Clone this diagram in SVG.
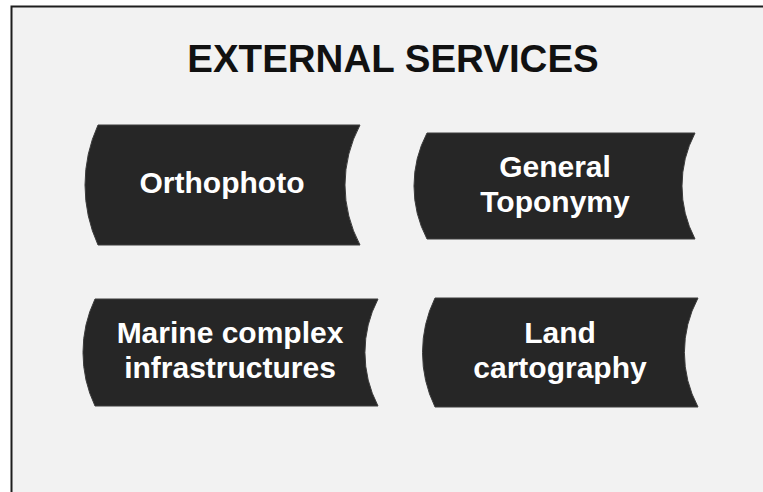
<svg xmlns="http://www.w3.org/2000/svg" width="763" height="492" viewBox="0 0 763 492">
<style>
.frame{fill:#f2f2f2}
.edge{stroke:#1e1e1e;stroke-width:2;fill:none}
.node{fill:#262626;stroke:#3c3c3c;stroke-width:1}
.title{font-family:"Liberation Sans",Arial,sans-serif;font-weight:bold;font-size:38.5px;fill:#111;text-anchor:middle}
.label{font-family:"Liberation Sans",Arial,sans-serif;font-weight:bold;font-size:30px;fill:#ffffff;text-anchor:middle}
</style>
<rect x="0" y="0" width="763" height="492" fill="#ffffff"/>
<rect class="frame" x="11" y="6" width="752" height="486"/>
<path class="edge" d="M11.5,492 L11.5,6.5 L763,6.5"/>
<text class="title" x="393" y="72">EXTERNAL SERVICES</text>
<g id="node-orthophoto">
<path class="node" d="M98,125 L360,125 A127.5,127.5 0 0 0 360,245 L98,245 A145,145 0 0 1 98,125 Z"/>
<text class="label" x="222" y="193">Orthophoto</text>
</g>
<g id="node-general-toponymy">
<path class="node" d="M427,133 L695,133 A114.5,114.5 0 0 0 695,239 L427,239 A114.5,114.5 0 0 1 427,133 Z"/>
<text class="label" x="555" y="177">General</text>
<text class="label" x="555" y="212">Toponymy</text>
</g>
<g id="node-marine">
<path class="node" d="M95,299 L378,299 A116,116 0 0 0 378,406 L95,406 A125,125 0 0 1 95,299 Z"/>
<text class="label" x="230" y="343">Marine complex</text>
<text class="label" x="230" y="378">infrastructures</text>
</g>
<g id="node-land">
<path class="node" d="M435,298 L698,298 A116,116 0 0 0 698,407 L435,407 A125,125 0 0 1 435,298 Z"/>
<text class="label" x="560" y="343">Land</text>
<text class="label" x="560" y="378">cartography</text>
</g>
<g id="connectors"></g>
</svg>
